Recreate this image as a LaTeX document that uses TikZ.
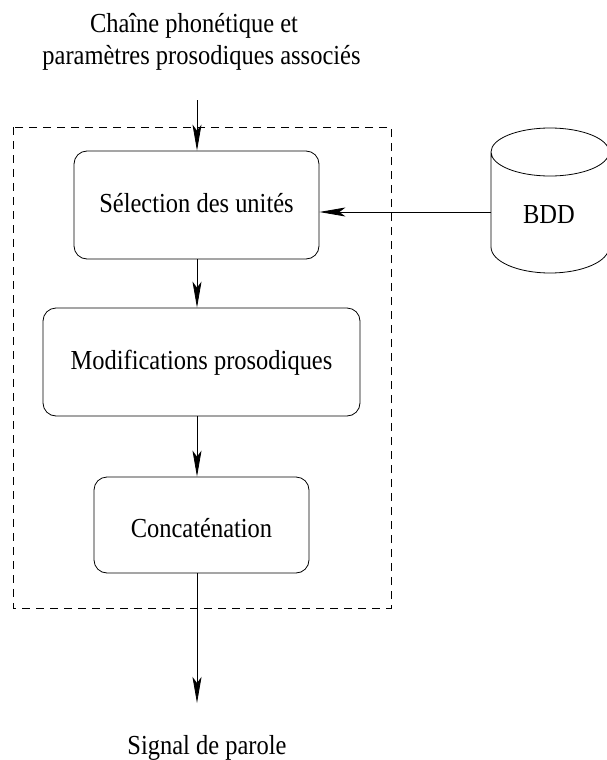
\documentclass[tikz,border=0pt]{standalone}
\usepackage{fontspec}
\setmainfont{Liberation Serif}
\usetikzlibrary{arrows.meta}
\newcommand{\narrowtext}[1]{\scalebox{0.89}[1]{#1}}
\begin{document}
\begin{tikzpicture}[x=1pt,y=-1pt,
  line width=0.8pt,
  every node/.style={font=\rmfamily\fontsize{27.5}{31}\selectfont},
  flow/.style={-{Stealth[length=26pt,width=9pt,inset=6pt]}},
  stagebox/.style={draw, rounded corners=13pt, inner sep=0pt,
    text height=18pt, text depth=4pt},
  txt/.style={inner sep=0pt, anchor=base}]
  \useasboundingbox (0,0) rectangle (607,760);

  % input description
  \node[txt] (in1) at (194,33) {\narrowtext{Chaîne phonétique et}};
  \node[txt] (in2) at (201.5,64) {\narrowtext{paramètres prosodiques associés}};
  \coordinate (inA) at (197,100);

  % synthesis block
  \draw[dashed, dash pattern=on 8pt off 6pt] (13,127) rectangle (391,608);

  \node[stagebox, minimum width=245pt, minimum height=108pt] (sel) at (196.5,205) {\narrowtext{Sélection des unités}};
  \node[stagebox, minimum width=317pt, minimum height=108pt] (mod) at (201.5,362) {\narrowtext{Modifications prosodiques}};
  \node[stagebox, minimum width=215pt, minimum height=96pt,
        text height=30pt, text depth=6pt] (cat) at (201.5,525) {\narrowtext{Concaténation}};

  % database cylinder
  \draw (491,247) -- (491,152) arc[start angle=180, end angle=-180, x radius=59pt, y radius=24pt];
  \draw (491,247) arc[start angle=180, end angle=360, x radius=59pt, y radius=26pt] -- (609,152);
  \node[txt] (db) at (549,223) {\narrowtext{BDD}};
  \coordinate (dbL) at (491,212);

  % output
  \coordinate (outA) at (197,703);
  \node[txt] (out) at (207,754) {\narrowtext{Signal de parole}};

  % connectors
  \draw[flow] (inA) -- (inA |- sel.north);
  \draw[flow] (inA |- sel.south) -- (inA |- mod.north);
  \draw[flow] (inA |- mod.south) -- (inA |- cat.north);
  \draw[flow] (inA |- cat.south) -- (outA);
  \draw[flow] (dbL) -- (dbL -| sel.east);
\end{tikzpicture}
\end{document}
